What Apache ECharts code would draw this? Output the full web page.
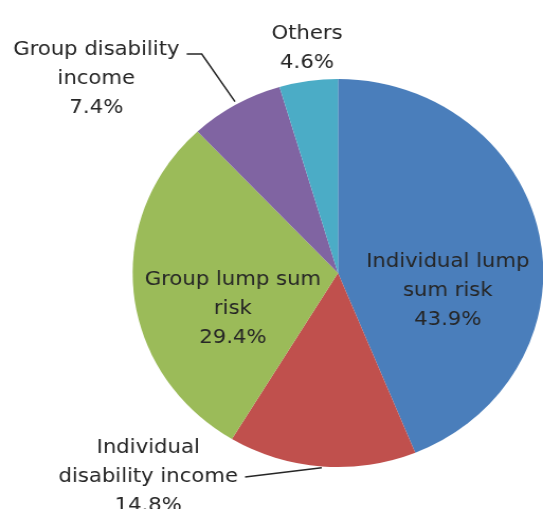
<!DOCTYPE html>
<html>
<head>
<meta charset="utf-8">
<script src="https://cdn.jsdelivr.net/npm/echarts@6/dist/echarts.min.js"></script>
<style>
  html, body { margin: 0; padding: 0; background: #ffffff; overflow: hidden; }
  #chart { width: 513px; height: 509px; transform: scaleX(1.0585); transform-origin: 0 0; }
</style>
</head>
<body>
<div id="chart"></div>
<script>
// ---- data ----
const categories = [
  'Individual lump sum risk',
  'Individual disability income',
  'Group lump sum risk',
  'Group disability income',
  'Others'
];
const shares = [43.9, 14.8, 29.4, 7.4, 4.6];
const labelNames = [
  'Individual lump\nsum risk',
  'Individual\ndisability income',
  'Group lump sum\nrisk',
  'Group disability\nincome',
  'Others'
];

// ---- styling / layout ----
const colors = ['#4A7EBB', '#C0504D', '#9BBB59', '#8064A2', '#4BACC6'];
const labelCenters = [[423, 291], [140, 477], [220, 309], [91, 79], [290, 48]];
const leaderPoints = [
  null,
  [[231.5, 477], [303.9, 467.7], [303.9, 467.7]],
  null,
  [[176.4, 54], [190.6, 54], [222, 101.7]],
  null
];

const chart = echarts.init(document.getElementById('chart'), null, { renderer: 'canvas' });
chart.setOption({
  animation: false,
  backgroundColor: '#ffffff',
  series: [{
    type: 'pie',
    center: [319.3, 273],
    radius: [0, 194],
    startAngle: 90,
    clockwise: true,
    avoidLabelOverlap: false,
    itemStyle: { borderWidth: 0 },
    label: {
      show: true,
      position: 'outside',
      fontFamily: 'DejaVu Sans',
      fontSize: 20,
      lineHeight: 29,
      color: '#262626',
      align: 'center',
      formatter: p => labelNames[p.dataIndex] + '\n' + p.value.toFixed(1) + '%'
    },
    labelLine: {
      show: true,
      lineStyle: { color: '#262626', width: 1.5 }
    },
    labelLayout: function (params) {
      const i = params.dataIndex;
      const c = labelCenters[i];
      const out = { x: c[0], y: c[1], align: 'center', verticalAlign: 'middle' };
      if (leaderPoints[i]) out.labelLinePoints = leaderPoints[i];
      return out;
    },
    data: categories.map((name, i) => ({
      name: name,
      value: shares[i],
      itemStyle: { color: colors[i] },
      labelLine: { show: !!leaderPoints[i] }
    }))
  }]
});
</script>
</body>
</html>
